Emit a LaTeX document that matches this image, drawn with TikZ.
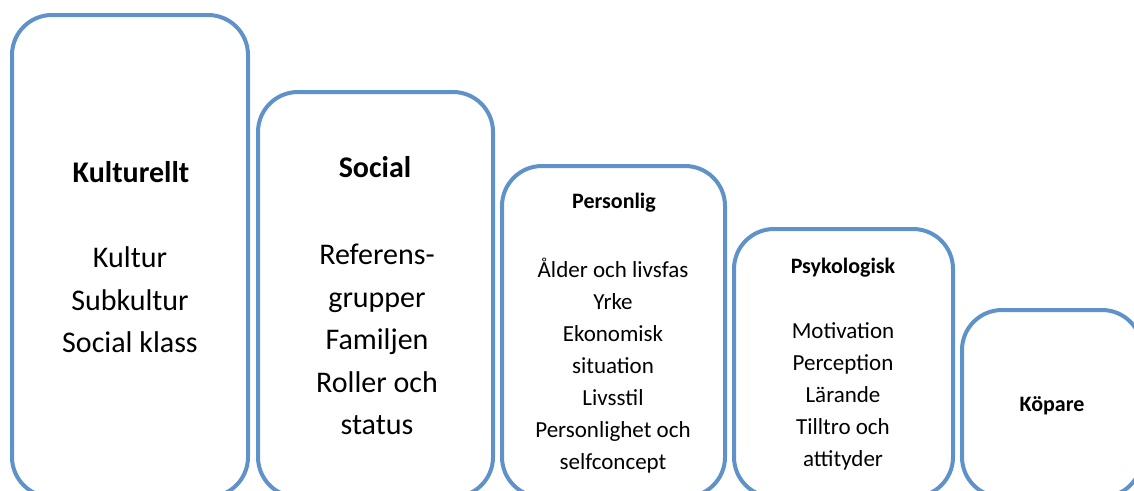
\documentclass[tikz,border=0pt]{standalone}
\usepackage{fontspec}
\setmainfont{Carlito}
\definecolor{boxblue}{RGB}{95,146,200}
\begin{document}
\begin{tikzpicture}[x=1pt,y=-1pt,
  box/.style={draw=boxblue, line width=4pt, rounded corners=40pt, inner sep=0pt},
  bigtitle/.style={font=\fontsize{30}{43}\selectfont\bfseries, align=center, inner sep=0pt},
  bigbody/.style={font=\fontsize{30}{42.5}\selectfont, align=center, inner sep=0pt},
  smalltitle/.style={font=\fontsize{22}{32}\selectfont\bfseries, align=center, inner sep=0pt},
  smallbody/.style={font=\fontsize{23}{32}\selectfont, align=center, inner sep=0pt}]
\useasboundingbox (0,0) rectangle (1134,490);
\clip (0,0) rectangle (1134,490);
% boxes
\node[box, minimum width=236pt, minimum height=482pt] (b1) at (130,256) {};
\node[box, minimum width=235pt, minimum height=405pt] (b2) at (375.5,294.5) {};
\node[box, minimum width=223pt, minimum height=331pt] (b3) at (613.5,331.5) {};
\node[box, minimum width=219pt, minimum height=268pt] (b4) at (843.5,363) {};
\node[box, minimum width=180pt, minimum height=187pt] (b5) at (1052,403.5) {};
% texts
\node[bigtitle] (t1) at (131,172) {Kulturellt};
\node[bigbody] (x1) at (130,300) {Kultur\\Subkultur\\Social klass};
\node[bigtitle] (t2) at (375,167) {Social};
\node[bigbody] (x2) at (377,339.5) {Referens-\\grupper\\Familjen\\Roller och\\status};
\node[smalltitle] (t3) at (614,203) {Personlig};
\node[smallbody] (x3) at (613,366) {Ålder och livsfas\\Yrke\\Ekonomisk\\situation\\Livsstil\\Personlighet och\\selfconcept};
\node[smalltitle] (t4) at (843,268) {Psykologisk};
\node[smallbody] (x4) at (843,396) {Motivation\\Perception\\Lärande\\Tilltro och\\attityder};
\node[smalltitle] (t5) at (1052,406) {Köpare};
\end{tikzpicture}
\end{document}
